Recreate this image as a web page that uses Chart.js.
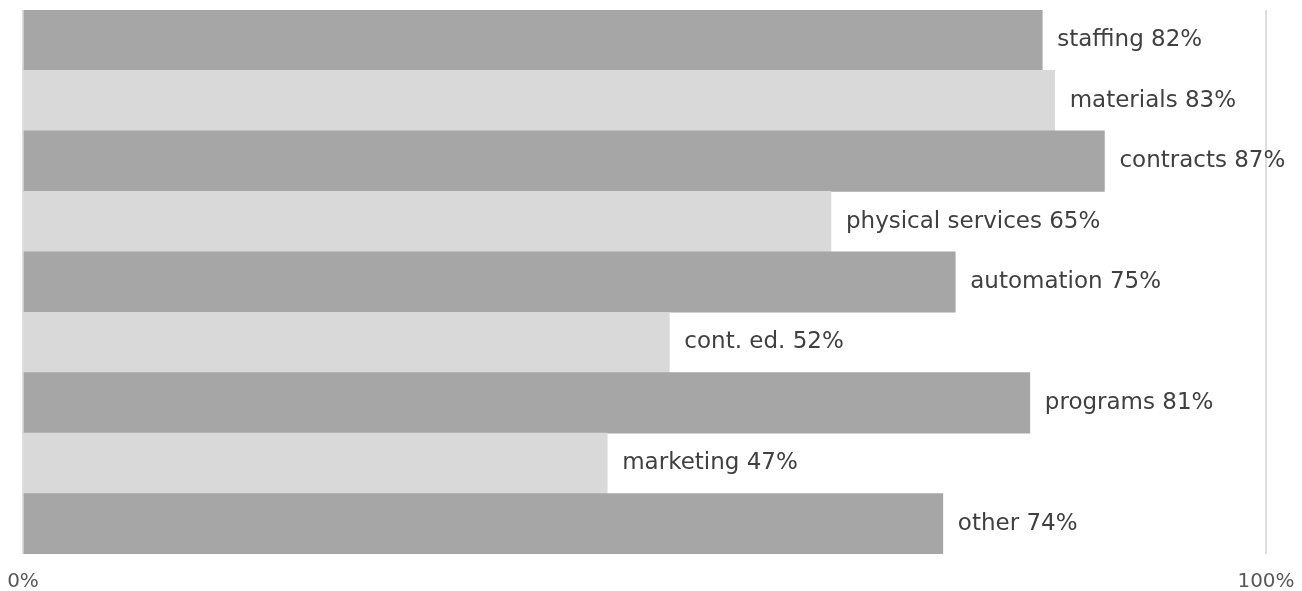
<!DOCTYPE html>
<html>
<head>
<meta charset="utf-8">
<title>Budget share by area</title>
<script src="https://cdn.jsdelivr.net/npm/chart.js@4/dist/chart.umd.min.js"></script>
<style>
  html, body { margin: 0; padding: 0; background: #fff; }
  #wrap { width: 1302px; height: 591px; position: relative; }
</style>
</head>
<body>
<div id="wrap"><canvas id="myChart"></canvas></div>
<script>
// categories, top to bottom
var categories = ["staffing", "materials", "contracts", "physical services", "automation",
  "cont. ed.", "programs", "marketing", "other"];
// percent values
var values = [82, 83, 87, 65, 75, 52, 81, 47, 74];
// bottom axis ticks
var tickValues = [0, 100];

var barColors = categories.map(function (c, i) {
  return i % 2 === 0 ? "#a6a6a6" : "#d9d9d9";
});

// "name NN%" written just past the end of each bar
var barLabels = {
  id: "barLabels",
  afterDatasetsDraw: function (chart) {
    var ctx = chart.ctx;
    var meta = chart.getDatasetMeta(0);
    ctx.save();
    ctx.font = "23px 'DejaVu Sans'";
    ctx.fillStyle = "#404040";
    ctx.textAlign = "left";
    ctx.textBaseline = "middle";
    meta.data.forEach(function (bar, i) {
      ctx.fillText(categories[i] + " " + values[i] + "%", bar.x + 15, bar.y);
    });
    ctx.restore();
  }
};

var ctx = document.getElementById("myChart").getContext("2d");
var myChart = new Chart(ctx, {
  type: "bar",
  data: {
    labels: categories,
    datasets: [{
      data: values,
      backgroundColor: barColors,
      borderWidth: 0,
      barPercentage: 1,
      categoryPercentage: 1
    }]
  },
  options: {
    indexAxis: "y",
    responsive: true,
    maintainAspectRatio: false,
    animation: false,
    layout: {
      autoPadding: false,
      padding: { left: 23, right: 36, top: 10, bottom: 0 }
    },
    plugins: {
      legend: { display: false },
      tooltip: { enabled: false }
    },
    scales: {
      x: {
        min: 0,
        max: 100,
        afterBuildTicks: function (axis) {
          axis.ticks = tickValues.map(function (v) { return { value: v }; });
        },
        afterFit: function (axis) {
          // the edge labels sit in the outer margin, not inside the plot
          axis.height = 37;
          axis.paddingLeft = 0;
          axis.paddingRight = 0;
        },
        ticks: {
          callback: function (v) { return v + "%"; },
          font: { family: "'DejaVu Sans'", size: 20 },
          color: "#595959",
          padding: 16,
          maxRotation: 0
        },
        grid: {
          color: "#dedede",
          lineWidth: 2,
          drawTicks: false
        },
        border: { display: false }
      },
      y: {
        display: false
      }
    }
  },
  plugins: [barLabels]
});
</script>
</body>
</html>
